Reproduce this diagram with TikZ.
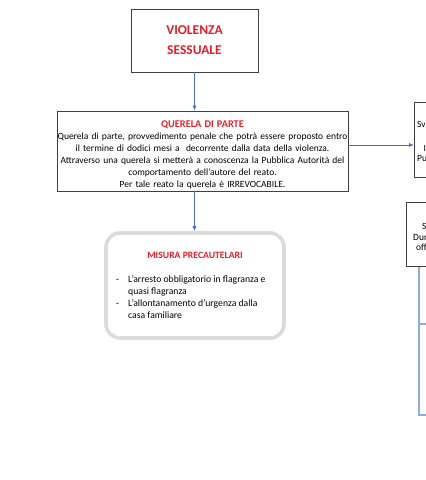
\documentclass[tikz,border=0pt]{standalone}
\usepackage{fontspec}
\setmainfont{Carlito}
\usetikzlibrary{arrows.meta,calc}

\definecolor{titlered}{HTML}{E3202B}
\definecolor{flowblue}{HTML}{4472C4}
\definecolor{branchblue}{HTML}{8FAADC}
\newcommand{\listdash}[1]{\makebox[12pt][l]{-}#1}

\begin{document}
\begin{tikzpicture}[
      x=1pt, y=-1pt, font=\fontsize{9.5}{12}\selectfont,
      boxdark/.style={rectangle, draw=black!75, line width=0.9pt, fill=white,
          align=center, inner sep=0pt},
      boxsoft/.style={rectangle, draw=black!14, line width=3.6pt, rounded corners=14pt,
          fill=white, inner sep=0pt},
      frag/.style={anchor=west, inner sep=0pt},
      flow/.style={-{Latex[length=5pt,width=4pt]}, line width=0.75pt, draw=flowblue},
      branch/.style={line width=1.4pt, draw=branchblue}
  ]
  \path[use as bounding box, clip] (0,0) rectangle (426,480);
  \fill[white] (0,0) rectangle (426,480);

  \node[boxdark, minimum width=127pt, minimum height=63pt,
        font=\fontsize{13.5}{20}\selectfont\bfseries, text=titlered]
        (viol) at (194.5,40.5) {VIOLENZA\\SESSUALE};

  \node[boxdark, minimum width=291pt, minimum height=80pt, text width=291pt]
        (quer) at (202.5,151) {%
      \rule{0pt}{14pt}{\fontsize{10.3}{12}\selectfont\color{titlered}\bfseries QUERELA DI PARTE}\\
      Querela di parte, provvedimento penale che potrà essere proposto entro\\
      il termine di dodici mesi a~ decorrente dalla data della violenza.\\
      Attraverso una querela si metterà a conoscenza la Pubblica Autorità del\\
      comportamento dell’autore del reato.\\
      Per tale reato la querela è IRREVOCABILE.};

  \node[boxsoft, minimum width=178pt, minimum height=105pt] (misura) at (195,285.5) {};
  \node[font=\fontsize{9.7}{10}\selectfont\bfseries, text=titlered, inner sep=0pt]
        (misuratitle) at (195,255) {MISURA PRECAUTELARI};
  \node[anchor=north west, align=left, inner sep=0pt,
        font=\fontsize{9.7}{12}\selectfont] (misuralist) at (116,275.5) {%
      \listdash{L’arresto obbligatorio in flagranza e}\\
      \hspace*{12pt}quasi flagranza\\
      \listdash{L’allontanamento d’urgenza dalla}\\
      \hspace*{12pt}casa familiare};

  % boxes on the right, cut by the page edge
  \node[boxdark, anchor=north west, minimum width=40pt, minimum height=75pt] (svbox) at (414,102) {};
  \node[frag] (svA) at (417,124) {Sv};
  \node[frag] (svB) at (423.5,148) {I};
  \node[frag] (svC) at (417,158) {Pu};
  \node[boxdark, anchor=north west, minimum width=40pt, minimum height=64pt] (durbox) at (406,202) {};
  \node[frag] (durA) at (422,226) {S};
  \node[frag] (durB) at (413,237) {Dur};
  \node[frag] (durC) at (416,247) {off};

  \coordinate (trunktop) at ($(durbox.south west)+(13,0)$);
  \coordinate (trunkbot) at (419,415);
  \coordinate (offA) at (432,324);
  \coordinate (offB) at (432,415);

  \draw[flow] (viol.south) -- (viol.south |- quer.north);
  \draw[flow] (viol.south |- quer.south) -- (viol.south |- misura.north);
  \draw[flow] ([yshift=6pt]quer.east) -- ([yshift=6pt]quer.east -| svbox.west);
  \draw[branch] (trunktop) -- (trunkbot) -- (offB);
  \draw[branch] (trunktop |- offA) -- (offA);
  \end{tikzpicture}
\end{document}
